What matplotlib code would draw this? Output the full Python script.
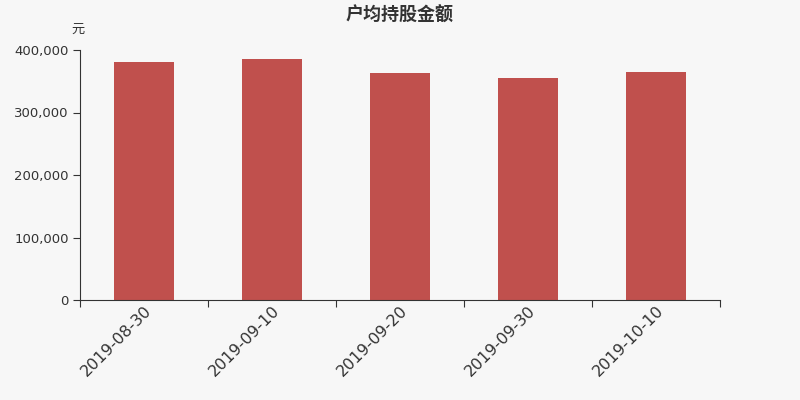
import matplotlib.pyplot as plt
import numpy as np

plt.rcParams['font.family'] = ['DejaVu Sans', 'Noto Sans CJK SC']

dates = ['2019-08-30', '2019-09-10', '2019-09-20', '2019-09-30', '2019-10-10']
values = [380800, 385600, 363200, 355200, 364800]

bg = '#f7f7f7'
fig = plt.figure(figsize=(8, 4), dpi=100, facecolor=bg)
ax = fig.add_axes([0.1, 0.25, 0.8, 0.625], facecolor=bg)

x = np.arange(len(dates))
ax.bar(x, values, width=0.47, color='#c0504d', zorder=2)

ax.set_xlim(-0.5, len(dates) - 0.5)
ax.set_ylim(0, 400000)
ax.set_yticks([0, 100000, 200000, 300000, 400000])
ax.set_yticklabels(['{:,}'.format(v) for v in [0, 100000, 200000, 300000, 400000]],
                   fontsize=9.5, color='#333333')
ax.set_xticks(np.arange(len(dates) + 1) - 0.5)
ax.set_xticklabels([])
ax.set_xticks(x, minor=True)
ax.set_xticklabels(dates, minor=True, rotation=45, ha='right', rotation_mode='anchor',
                   fontsize=11.5, color='#333333')
ax.tick_params(axis='x', which='minor', length=0, pad=2)
ax.tick_params(axis='x', which='major', length=5, color='#333333')
ax.tick_params(axis='y', length=5, color='#333333', pad=3)

for s in ['top', 'right']:
    ax.spines[s].set_visible(False)
ax.spines['left'].set_color('#333333')
ax.spines['bottom'].set_color('#333333')

fig.text(0.5, 0.963, '户均持股金额', ha='center', va='center', fontsize=13,
         fontweight='bold', color='#333333', family='Noto Sans CJK SC')
fig.text(0.098, 0.928, '元', ha='center', va='center', fontsize=9.5, color='#333333',
         family='Noto Sans CJK SC')

fig.savefig('out.png', facecolor=bg)
